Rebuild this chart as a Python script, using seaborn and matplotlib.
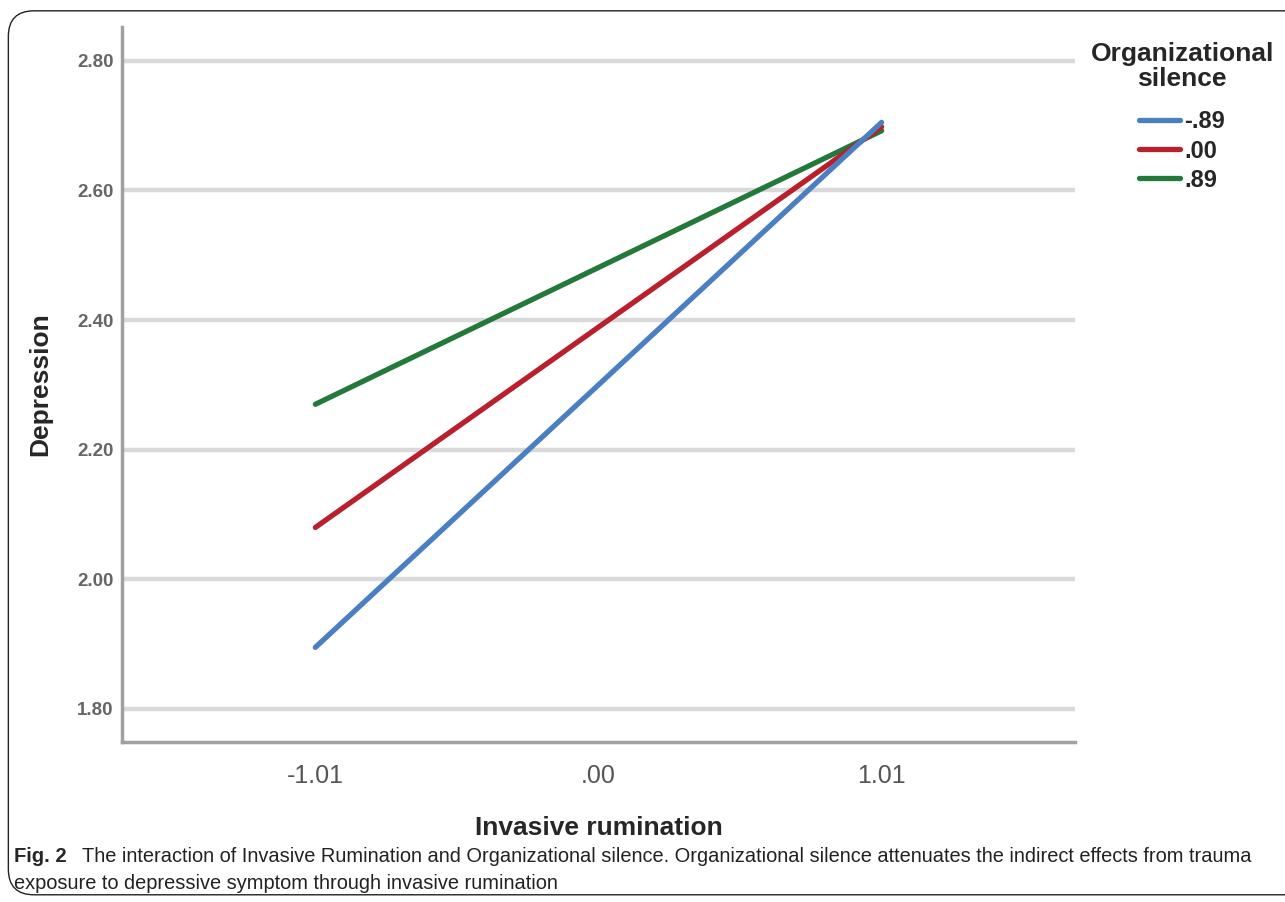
import pandas as pd
import seaborn as sns
import matplotlib.pyplot as plt
from matplotlib.patches import FancyBboxPatch

# values
rumination = [-1.01, 1.01]
silence_levels = ["-.89", ".00", ".89"]
depression = {
    "-.89": [1.895, 2.705],
    ".00": [2.080, 2.698],
    ".89": [2.270, 2.692],
}
x_ticks = [-1.01, 0.00, 1.01]
x_tick_labels = ["-1.01", ".00", "1.01"]
y_ticks = [1.80, 2.00, 2.20, 2.40, 2.60, 2.80]
y_tick_labels = ["1.80", "2.00", "2.20", "2.40", "2.60", "2.80"]
colors = ["#4a80c2", "#b91f2d", "#22793a"]

rows = []
for lvl in silence_levels:
    for x, y in zip(rumination, depression[lvl]):
        rows.append({"Invasive rumination": x, "Depression": y, "Organizational silence": lvl})
df = pd.DataFrame(rows)

sns.set_theme(style="white")
plt.rcParams['font.family'] = ['Liberation Sans', 'DejaVu Sans']

fig = plt.figure(figsize=(12.85, 9.02), dpi=100)
ax = fig.add_axes([0.0949, 0.1774, 0.7417, 0.7926])

sns.lineplot(data=df, x="Invasive rumination", y="Depression",
             hue="Organizational silence", hue_order=silence_levels,
             palette=colors, linewidth=3.8, ax=ax, legend=True)
for ln, z in zip(ax.lines, [4, 3, 2]):
    ln.set_zorder(z)
    ln.set_solid_capstyle("round")

ax.set_xlim(-1.70, 1.70)
ax.set_ylim(1.749, 2.852)
ax.set_xticks(x_ticks)
ax.set_xticklabels(x_tick_labels, fontsize=18, color="#555555")
ax.set_yticks(y_ticks)
ax.set_yticklabels(y_tick_labels, fontsize=13.5, color="#666666", fontweight="bold")
ax.tick_params(axis="both", length=0, pad=6)
ax.tick_params(axis="x", pad=16)

ax.yaxis.grid(True, color="#d9d9d9", linewidth=3.2)
ax.set_axisbelow(True)
for side in ["top", "right"]:
    ax.spines[side].set_visible(False)
for side in ["left", "bottom"]:
    ax.spines[side].set_color("#a0a0a0")
    ax.spines[side].set_linewidth(2.5)

ax.set_xlabel("Invasive rumination", fontsize=19, fontweight="bold", labelpad=20)
ax.set_ylabel("Depression", fontsize=19, fontweight="bold", labelpad=18)

handles, labels = ax.get_legend_handles_labels()
leg = ax.legend(handles, labels, title="Organizational\nsilence",
                loc="upper center", bbox_to_anchor=(0.92, 0.977),
                bbox_transform=fig.transFigure, frameon=False,
                prop={"size": 17, "weight": "bold"}, handlelength=1.7,
                handletextpad=0.2, labelspacing=0.26)
leg.get_title().set_fontsize(19)
leg.get_title().set_fontweight("bold")
leg.get_title().set_multialignment("center")
leg.get_title().set_linespacing(1.05)
leg._legend_box.align = "center"
leg._legend_box.sep = 14
for h in leg.get_lines():
    h.set_linewidth(3.8)

# figure caption
fig.text(0.011, 0.0499, "Fig. 2", fontsize=14.5, fontweight="bold", va="center")
fig.text(0.064, 0.0499,
         "The interaction of Invasive Rumination and Organizational silence. "
         "Organizational silence attenuates the indirect effects from trauma",
         fontsize=14.4, va="center", color="#222222")
fig.text(0.011, 0.021, "exposure to depressive symptom through invasive rumination",
         fontsize=14.4, va="center", color="#222222")

# rounded outline around the panel
box = FancyBboxPatch((0.0065, 0.008), 1.2, 0.98, boxstyle="round,pad=0,rounding_size=0.02",
                     transform=fig.transFigure, fill=False, edgecolor="#222222",
                     linewidth=1.0, mutation_aspect=1285 / 902)
fig.patches.append(box)

fig.savefig("out.png", dpi=100)
